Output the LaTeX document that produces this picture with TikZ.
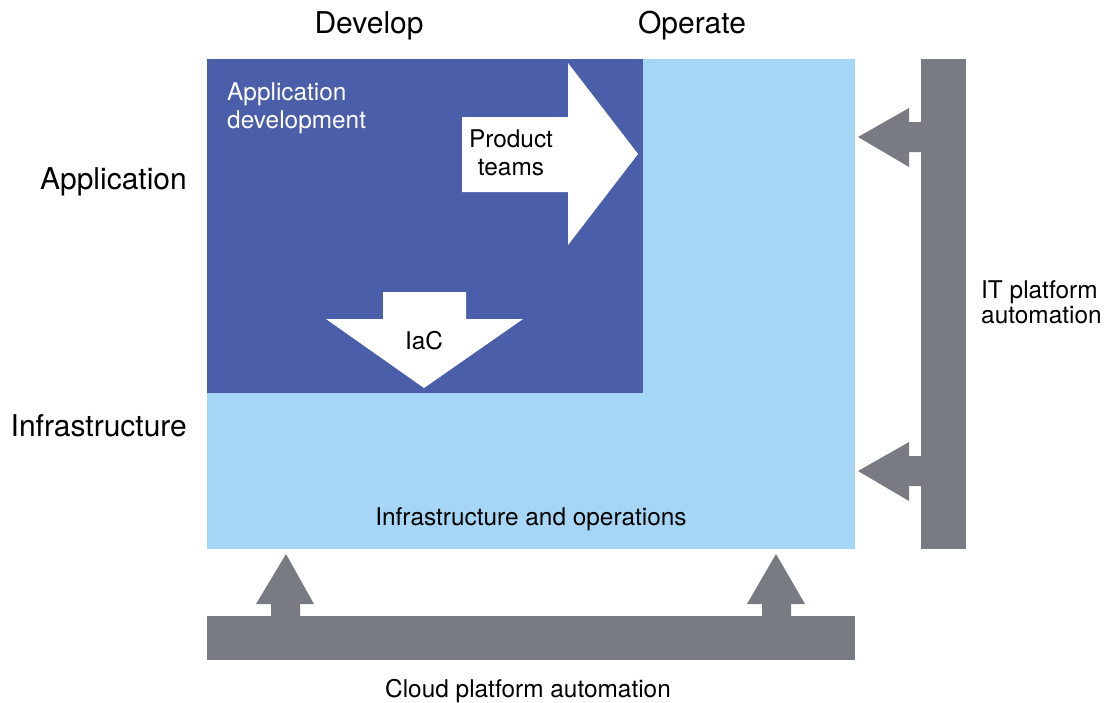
\documentclass[tikz,border=0pt]{standalone}
\usepackage{fontspec}
\setmainfont{TeX Gyre Heros}
\definecolor{darkblue}{HTML}{4B5EAA}
\definecolor{lightblue}{HTML}{A6D6F6}
\definecolor{bargray}{HTML}{787C82}
\begin{document}
\begin{tikzpicture}[x=1pt,y=-1pt,
  big/.style={font=\fontsize{30}{34}\selectfont, inner sep=0pt},
  small/.style={font=\fontsize{24.4}{28}\selectfont, inner sep=0pt},
  blockarrow/.style={fill=white, draw=none},
  grayshape/.style={fill=bargray, draw=none}]
\useasboundingbox (0,0) rectangle (1105,702);
% panels
\fill[lightblue] (207,59) rectangle (855,549);
\fill[darkblue] (207,59) rectangle (643,393);
% product teams arrow
\fill[white] (462,117) -- (568,117) -- (568,63) -- (638,154) -- (568,245) -- (568,192) -- (462,192) -- cycle;
% IaC arrow
\fill[white] (383,292) -- (466,292) -- (466,319) -- (523,319) -- (424,388) -- (326,319) -- (383,319) -- cycle;
% right gray bar with arrows
\fill[bargray] (921,59) rectangle (966,549);
\fill[bargray] (921,122) -- (909,122) -- (909,108) -- (858,137) -- (909,167) -- (909,152) -- (921,152) -- cycle;
\fill[bargray] (921,456) -- (909,456) -- (909,442) -- (858,471) -- (909,501) -- (909,486) -- (921,486) -- cycle;
% bottom gray bar with arrows
\fill[bargray] (207,616) rectangle (855,660);
\fill[bargray] (271,616) -- (271,604) -- (256,604) -- (286,554) -- (314,604) -- (300,604) -- (300,616) -- cycle;
\fill[bargray] (762,616) -- (762,604) -- (747,604) -- (776,554) -- (805,604) -- (791,604) -- (791,616) -- cycle;
% texts
\node[big, anchor=base] (develop) at (369,33) {Develop};
\node[big, anchor=base] (operate) at (692,33) {Operate};
\node[big, anchor=base east] (application) at (187,189) {Application};
\node[big, anchor=base east] (infrastructure) at (187,436) {Infrastructure};
\node[small, anchor=base west, text=white, align=left] (appdev) at (227,128) {Application\\development};
\node[small, anchor=base, align=center] (product) at (511,175) {Product\\teams};
\node[small, anchor=base] (iac) at (424,349) {IaC};
\node[small, anchor=base] (infraops) at (531,525) {Infrastructure and operations};
\node[small, anchor=base west, align=left, font=\fontsize{24.4}{25}\selectfont] (itpa) at (981,323) {IT platform\\automation};
\node[small, anchor=base] (cloud) at (528,697) {Cloud platform automation};
\end{tikzpicture}
\end{document}
